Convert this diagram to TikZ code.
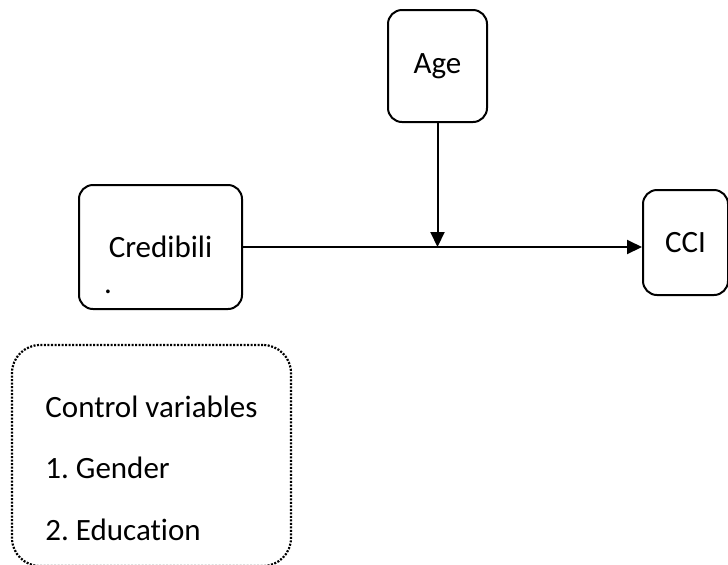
\documentclass[tikz,border=0pt]{standalone}
\usepackage{fontspec}
\setmainfont{Carlito}[Ligatures=NoCommon]
\frenchspacing
\usetikzlibrary{positioning,arrows.meta}
\tikzset{
  var box/.style 2 args={
    draw,
    line width=1pt,
    rounded corners=7pt,
    minimum width={#1},
    minimum height={#2},
    inner sep=0pt,
  },
  control box/.style={
    draw,
    line width=1.1pt,
    dash pattern=on 1pt off 0.75pt,
    rounded corners=14pt,
    minimum width=139.5pt,
    minimum height=110.5pt,
  },
  link/.style={
    line width=1pt,
    -{Triangle[length=7.5pt,width=7pt]},
  }
}

\begin{document}
\begin{tikzpicture}[x=0.5pt,y=-0.5pt,font=\fontsize{15.5}{18}\selectfont]
    \useasboundingbox (0,0) rectangle (728,564);

    \node [var box={49.5pt}{56pt}] (age) at (437.5,66) {Age};
    \node [var box={81.5pt}{62pt}] (cred) at (160.5,247) {Credibili};
    \node [var box={42.5pt}{52.5pt}] (cci) at (685.5,242.5) {CCI};
    \node [inner sep=0pt] (credmark) at (108,292) {.};

    \node [control box] (ctrl) at (151.5,455.5) {};
    \node [align=left, inner sep=0pt, font=\fontsize{15.5}{30.75}\selectfont] (ctrllist) at (151.5,468)
        {Control variables\\1. Gender\\2. Education};

    \draw [link] (cred.east) -- (cred.east -| cci.west);
    \draw [link] (age.south) -- (age.south |- cred.east);
\end{tikzpicture}
\end{document}
